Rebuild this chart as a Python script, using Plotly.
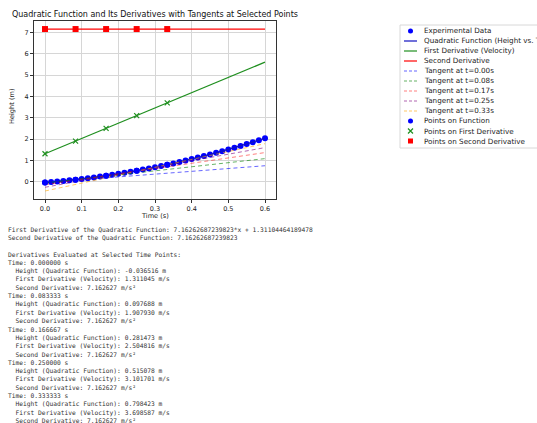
import plotly.graph_objects as go

W, H = 537, 423

# ---------------- data ----------------
exp_time = [0.0, 0.0167, 0.0333, 0.05, 0.0667, 0.0833, 0.1, 0.1167, 0.1333, 0.15,
            0.1667, 0.1833, 0.2, 0.2167, 0.2333, 0.25, 0.2667, 0.2833, 0.3, 0.3167,
            0.3333, 0.35, 0.3667, 0.3833, 0.4, 0.4167, 0.4333, 0.45, 0.4667, 0.4833,
            0.5, 0.5167, 0.5333, 0.55, 0.5667, 0.5833, 0.6]
exp_height = [-0.037, -0.014, 0.011, 0.038, 0.067, 0.098, 0.130, 0.165, 0.202, 0.241,
              0.282, 0.324, 0.369, 0.416, 0.464, 0.515, 0.568, 0.623, 0.679, 0.738,
              0.798, 0.861, 0.926, 0.992, 1.061, 1.132, 1.204, 1.279, 1.355, 1.434,
              1.514, 1.597, 1.681, 1.768, 1.856, 1.947, 2.039]
fit_height = [-0.037, -0.014, 0.011, 0.038, 0.067, 0.098, 0.130, 0.165, 0.202, 0.241,
              0.282, 0.324, 0.369, 0.416, 0.464, 0.515, 0.568, 0.623, 0.679, 0.738,
              0.798, 0.861, 0.926, 0.992, 1.061, 1.132, 1.204, 1.279, 1.355, 1.434,
              1.514, 1.597, 1.681, 1.768, 1.856, 1.947, 2.039]

line_time = [0.0, 0.6]
vel_line = [1.311, 5.609]
acc_line = [7.163, 7.163]

sel_times = [0.0, 0.083333, 0.166667, 0.25, 0.333333]
sel_height = [-0.036516, 0.097688, 0.281473, 0.515078, 0.798423]
sel_vel = [1.311045, 1.907930, 2.504816, 3.101701, 3.698587]
sel_acc = [7.162627, 7.162627, 7.162627, 7.162627, 7.162627]

tan_start = [-0.037, -0.061, -0.136, -0.260, -0.435]   # tangent value at t=0
tan_end = [0.750, 1.084, 1.367, 1.601, 1.785]          # tangent value at t=0.6

coef_a2 = "7.16262687239823"
coef_b = "1.31104464189478"

x_ticks = [0.0, 0.1, 0.2, 0.3, 0.4, 0.5, 0.6]
y_ticks = [0, 1, 2, 3, 4, 5, 6, 7]

# ---------------- styles ----------------
C_BLUE = "#0000ff"
C_GREEN = "#1f8f1f"
C_RED = "#ff0000"
tan_colors = ["rgba(0,0,255,0.6)", "rgba(0,128,0,0.6)", "rgba(255,0,0,0.5)",
              "rgba(128,0,128,0.6)", "rgba(255,165,0,0.6)"]
SANS = "DejaVu Sans"
MONO = "DejaVu Sans Mono"

fig = go.Figure()

fig.add_trace(go.Scatter(x=exp_time, y=exp_height, mode="markers",
                         marker=dict(color=C_BLUE, size=6), name="Experimental Data"))
fig.add_trace(go.Scatter(x=exp_time, y=fit_height, mode="lines",
                         line=dict(color="#1010c0", width=1.2),
                         name="Quadratic Function (Height vs. Time)"))
fig.add_trace(go.Scatter(x=line_time, y=vel_line, mode="lines",
                         line=dict(color=C_GREEN, width=1.2), name="First Derivative (Velocity)"))
fig.add_trace(go.Scatter(x=line_time, y=acc_line, mode="lines",
                         line=dict(color=C_RED, width=1.2), name="Second Derivative"))
for i, t in enumerate(sel_times):
    fig.add_trace(go.Scatter(x=line_time, y=[tan_start[i], tan_end[i]], mode="lines",
                             line=dict(color=tan_colors[i], width=1, dash="4px,3px"),
                             name=f"Tangent at t={t:.2f}s"))
fig.add_trace(go.Scatter(x=sel_times, y=sel_height, mode="markers",
                         marker=dict(color=C_BLUE, size=6), name="Points on Function"))
fig.add_trace(go.Scatter(x=sel_times, y=sel_vel, mode="markers",
                         marker=dict(symbol="x-thin", size=5, line=dict(color=C_GREEN, width=1.2)),
                         name="Points on First Derivative"))
fig.add_trace(go.Scatter(x=sel_times, y=sel_acc, mode="markers",
                         marker=dict(symbol="square", color=C_RED, size=6),
                         name="Points on Second Derivative"))

# ---------------- custom legend (pixel coordinates on x2/y2) ----------------
leg_names = ["Experimental Data", "Quadratic Function (Height vs. Time)",
             "First Derivative (Velocity)", "Second Derivative"] + \
            [f"Tangent at t={t:.2f}s" for t in sel_times] + \
            ["Points on Function", "Points on First Derivative", "Points on Second Derivative"]
leg_y = [31 + 10 * i for i in range(len(leg_names))]
LX0, LX1, LXM, LXT = 404, 417, 410.5, 422

fig.add_trace(go.Scatter(x=[LXM], y=[leg_y[0]], mode="markers", xaxis="x2", yaxis="y2",
                         marker=dict(color=C_BLUE, size=5)))
line_styles = [("#1010c0", "solid"), (C_GREEN, "solid"), (C_RED, "solid")] + \
              [(c, "3px,2px") for c in tan_colors]
for k, (col, dsh) in enumerate(line_styles):
    yy = leg_y[1 + k]
    fig.add_trace(go.Scatter(x=[LX0, LX1], y=[yy, yy], mode="lines", xaxis="x2", yaxis="y2",
                             line=dict(color=col, width=1.2, dash=dsh)))
fig.add_trace(go.Scatter(x=[LXM], y=[leg_y[9]], mode="markers", xaxis="x2", yaxis="y2",
                         marker=dict(color=C_BLUE, size=5)))
fig.add_trace(go.Scatter(x=[LXM], y=[leg_y[10]], mode="markers", xaxis="x2", yaxis="y2",
                         marker=dict(symbol="x-thin", size=5, line=dict(color=C_GREEN, width=1.2))))
fig.add_trace(go.Scatter(x=[LXM], y=[leg_y[11]], mode="markers", xaxis="x2", yaxis="y2",
                         marker=dict(symbol="square", color=C_RED, size=5)))

annotations = []
for name, yy in zip(leg_names, leg_y):
    annotations.append(dict(x=LXT, y=yy, xref="x2", yref="y2", text=name, showarrow=False,
                            xanchor="left", yanchor="middle",
                            font=dict(family=SANS, size=7.2, color="#222")))

# title and axis labels
annotations.append(dict(x=155 / W, y=1 - 14 / H, xref="paper", yref="paper", showarrow=False,
                        text="Quadratic Function and Its Derivatives with Tangents at Selected Points",
                        xanchor="center", yanchor="middle",
                        font=dict(family=SANS, size=8, color="#111")))
annotations.append(dict(x=155 / W, y=1 - 216 / H, xref="paper", yref="paper", showarrow=False,
                        text="Time (s)", xanchor="center", yanchor="middle",
                        font=dict(family=SANS, size=6.6, color="#222")))
annotations.append(dict(x=12 / W, y=1 - 107 / H, xref="paper", yref="paper", showarrow=False,
                        text="Height (m)", textangle=-90, xanchor="center", yanchor="middle",
                        font=dict(family=SANS, size=6.6, color="#222")))

# printed console output
NB = "\u00a0"
lines = [f"First Derivative of the Quadratic Function: {coef_a2}*x + {coef_b}",
         f"Second Derivative of the Quadratic Function: {coef_a2}",
         "",
         "Derivatives Evaluated at Selected Time Points:"]
for t, h, v, a in zip(sel_times, sel_height, sel_vel, sel_acc):
    lines.append(f"Time: {t:.6f} s")
    lines.append(f"  Height (Quadratic Function): {h:.6f} m")
    lines.append(f"  First Derivative (Velocity): {v:.6f} m/s")
    lines.append(f"  Second Derivative: {a:.6f} m/s²")
for i, ln in enumerate(lines):
    if not ln:
        continue
    ypx = 229.3 + 8.33 * i
    annotations.append(dict(x=6 / W, y=1 - ypx / H, xref="paper", yref="paper", showarrow=False,
                            text=ln.replace(" ", NB), xanchor="left", yanchor="middle",
                            font=dict(family=MONO, size=6.25, color="#333")))

shapes = [dict(type="rect", xref="paper", yref="paper", x0=400 / W, x1=1.02,
               y0=1 - 148 / H, y1=1 - 25 / H, line=dict(color="#d8d8d8", width=1),
               fillcolor="white", layer="below")]

axis_common = dict(showline=True, linecolor="#333", linewidth=1, mirror=True,
                   ticks="outside", ticklen=3, tickwidth=1, tickcolor="#333",
                   showgrid=True, gridcolor="#d6d6d6", gridwidth=1, zeroline=False,
                   tickfont=dict(family=SANS, size=6.5, color="#222"), automargin=False)

fig.update_layout(
    width=W, height=H, margin=dict(l=0, r=0, t=0, b=0),
    paper_bgcolor="white", plot_bgcolor="rgba(0,0,0,0)",
    showlegend=False,
    xaxis=dict(domain=[34 / W, 276 / W], range=[-0.03, 0.63], tickvals=x_ticks,
               ticktext=[f"{v:.1f}" for v in x_ticks], **axis_common),
    yaxis=dict(domain=[1 - 199 / H, 1 - 21 / H], range=[-0.81, 7.54], tickvals=y_ticks,
               ticktext=[str(v) for v in y_ticks], **axis_common),
    xaxis2=dict(domain=[400 / W, 1], range=[400, 537], visible=False, fixedrange=True),
    yaxis2=dict(domain=[1 - 148 / H, 1 - 25 / H], range=[148, 25], visible=False, fixedrange=True),
    annotations=annotations, shapes=shapes,
)

fig.write_html("out.html", config={"displayModeBar": False},
               post_script="document.body.style.margin='0';document.body.style.padding='0';")
